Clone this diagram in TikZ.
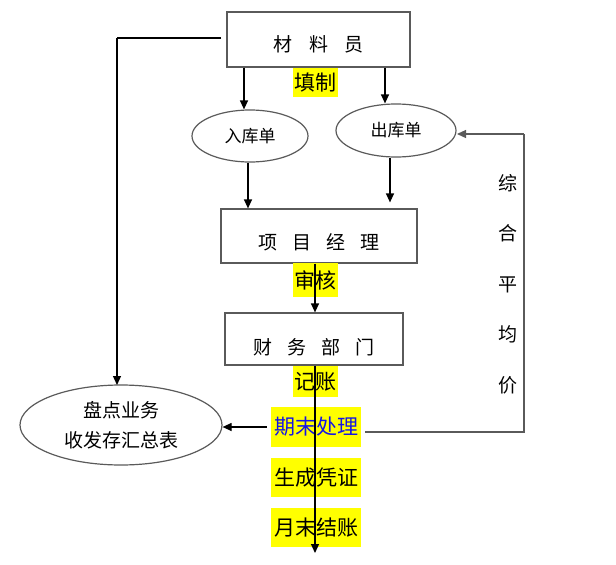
\documentclass[tikz,border=0pt]{standalone}
\usepackage{fontspec}
\newfontfamily\cjk{Noto Sans CJK SC}
\usetikzlibrary{arrows.meta,shapes.geometric}
\definecolor{hl}{RGB}{255,255,0}
\definecolor{boxline}{RGB}{90,90,90}
\definecolor{qmblue}{RGB}{20,20,230}
\tikzset{
  boxnode/.style={draw=boxline,line width=1.2pt,rectangle,inner sep=0pt,font=\cjk\fontsize{19}{22}\selectfont},
  ellnode/.style={draw=boxline,line width=1.2pt,ellipse,inner sep=0pt,font=\cjk\fontsize{17}{22}\selectfont},
  hlnode/.style={fill=hl,inner sep=0pt,font=\cjk\fontsize{21}{24}\selectfont},
  vtext/.style={inner sep=0pt,align=center,font=\cjk\fontsize{19}{50.5}\selectfont},
  arr/.style={line width=1.2pt,-{Triangle[length=9pt,width=8pt]}},
  plain/.style={line width=1.2pt,draw=boxline}
}
\begin{document}
\begin{tikzpicture}[x=1pt,y=-1pt]
\useasboundingbox (0,0) rectangle (616,565);
% boxes
\node[boxnode,minimum width=183pt,minimum height=55pt] (cly) at (318.5,39.5) {\raisebox{-5pt}[\height][\depth]{材\hspace{0.85em}料\hspace{0.85em}员}};
\node[ellnode,minimum width=116pt,minimum height=52pt] (rk) at (250,136) {入库单};
\node[ellnode,minimum width=120pt,minimum height=53pt] (ck) at (396,130.5) {出库单};
\node[boxnode,minimum width=196pt,minimum height=54pt] (xm) at (319,236) {\raisebox{-6pt}[\height][\depth]{项\hspace{0.8em}目\hspace{0.8em}经\hspace{0.8em}理}};
\node[boxnode,minimum width=178pt,minimum height=52pt] (cw) at (314,339) {\raisebox{-8pt}[\height][\depth]{财\hspace{0.8em}务\hspace{0.8em}部\hspace{0.8em}门}};
\node[ellnode,minimum width=202pt,minimum height=80pt,align=center,font=\cjk\fontsize{19}{30}\selectfont] (pd) at (121,425) {盘点业务\\收发存汇总表};
% highlighted labels
\node[hlnode,minimum width=45pt,minimum height=29pt] (tz) at (315.5,82.5) {填制};
\node[hlnode,minimum width=45pt,minimum height=34pt] (sh) at (315.5,280) {审核};
\node[hlnode,minimum width=45pt,minimum height=31pt] (jz) at (315.5,381.5) {记账};
\node[hlnode,minimum width=90pt,minimum height=40pt,text=qmblue] (qm) at (316,427) {期末处理};
\node[hlnode,minimum width=90pt,minimum height=39pt] (sc) at (316,477.5) {生成凭证};
\node[hlnode,minimum width=90pt,minimum height=39pt] (ym) at (316,527.5) {月末结账};
% vertical text
\node[vtext] (zh) at (508,284) {综\\合\\平\\均\\价};
% coordinates
\coordinate (tl) at (221,38);
\coordinate (tlc) at (117,38);
\coordinate (pdtop) at (117,385);
\coordinate (bot) at (315,553);
\coordinate (rc) at (524,432);
\coordinate (rt) at (524,134);
\coordinate (ckr) at (457,134);
% connectors
\draw[arr] (cly.south -| 244,0) -- (rk.north -| 244,0);
\draw[arr] (cly.south -| 385,0) -- (ck.north -| 385,0);
\draw[arr] (rk.south -| 248,0) -- (xm.north -| 248,0);
\draw[arr] (ck.south -| 390,0) -- ([yshift=6pt]xm.north -| 390,0);
\draw[arr] (xm.south -| 315,0) -- (cw.north -| 315,0);
\draw[arr] (cw.south -| 315,0) -- (bot);
\draw[line width=1.2pt] (tl) -- (tlc);
\draw[arr] (tlc) -- (pdtop);
\draw[arr] ([xshift=-4pt]qm.west) -- (qm.west -| pd.east);
\draw[plain] ([xshift=4pt]qm.east |- rc) -- (rc) -- (rt);
\draw[arr,draw=boxline] (rt) -- (ckr);
\end{tikzpicture}
\end{document}
